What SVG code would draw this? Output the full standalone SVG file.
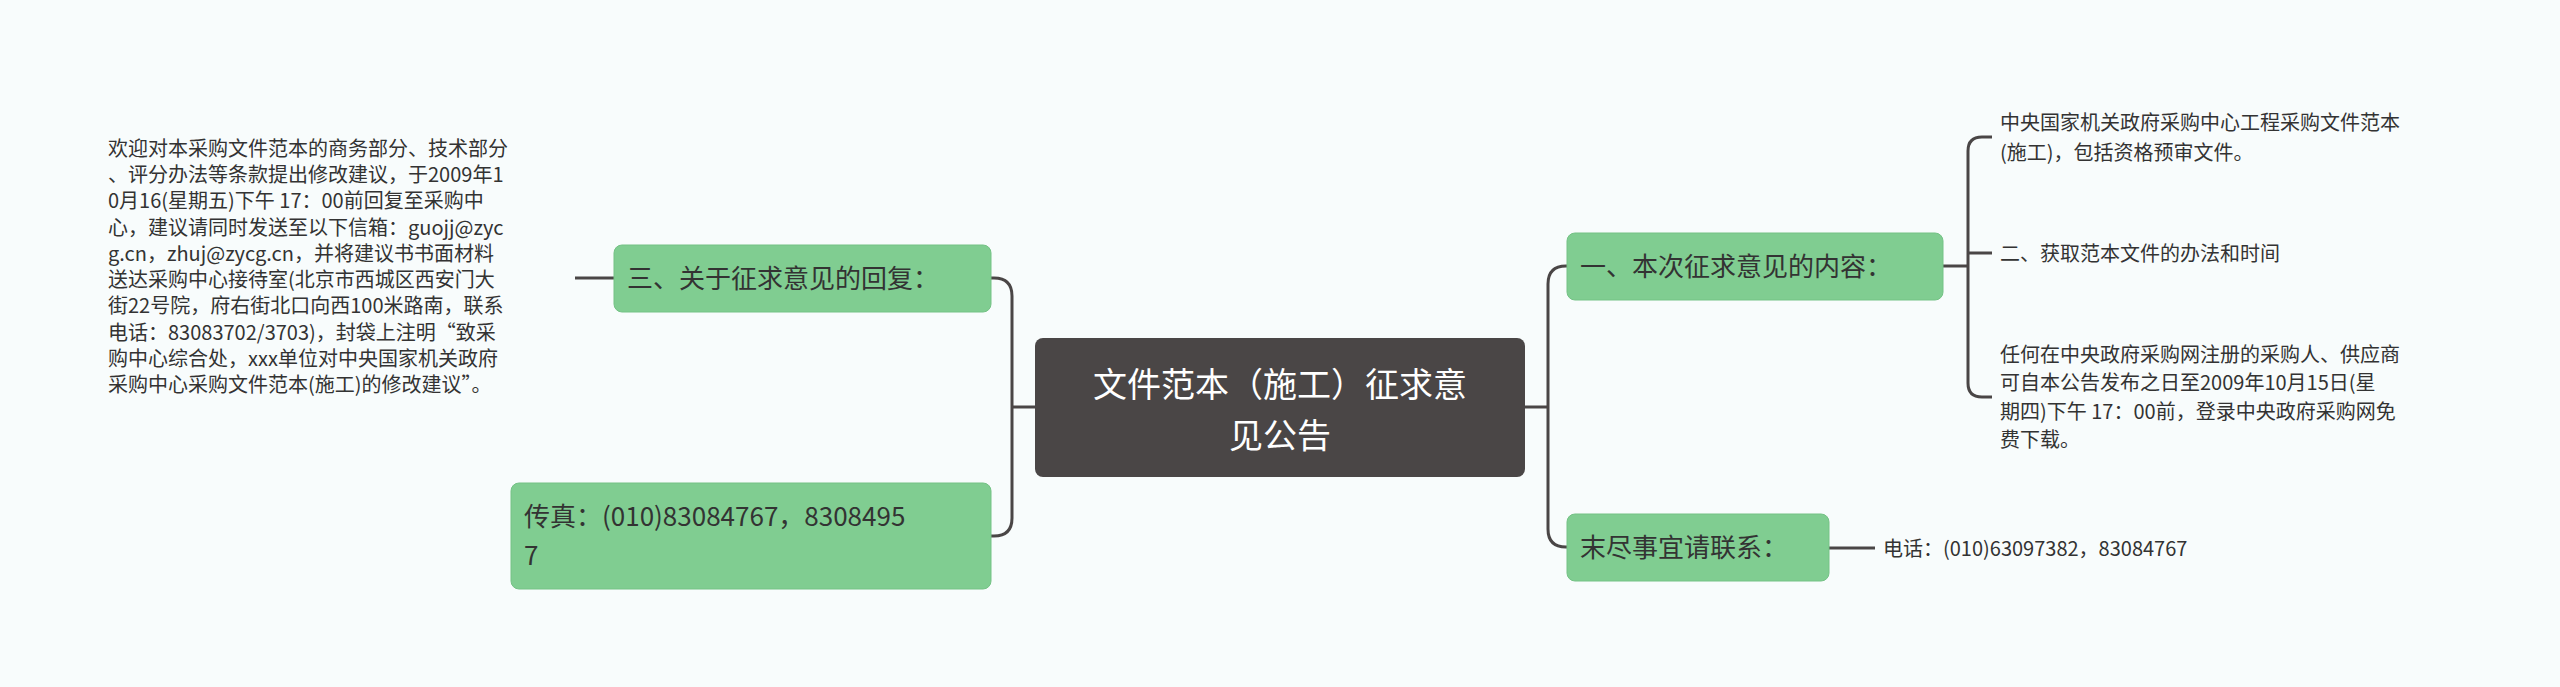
<svg xmlns="http://www.w3.org/2000/svg" width="2560" height="687" viewBox="0 0 2560 687">
<style>
text{font-family:"Noto Sans CJK SC","Noto Sans",sans-serif;fill:#333}
.g{fill:#80cd91;stroke:#74c285;stroke-width:1}
.t{font-size:26px}
.s{font-size:20px}
.c path{fill:none;stroke:#4a4646;stroke-width:3}
</style>
<rect width="2560" height="687" fill="#f8fcfc"/>
<g class="c">
<path d="M1525 407H1548M1548 407V284Q1548 266 1566 266H1567M1548 407V529Q1548 547 1566 547H1567"/>
<path d="M1035 407H1012M1012 407V296Q1012 278 994 278H991M1012 407V518Q1012 536 994 536H991"/>
<path d="M1943 266H1968M1968 266V151Q1968 137 1982 137H1992M1968 266V253Q1968 253 1982 253H1992M1968 266V383Q1968 397 1982 397H1992"/>
<path d="M1829 548H1875"/>
<path d="M614 278H575"/>
</g>
<g id="center"><rect x="1035" y="338" width="490" height="139" rx="8" fill="#4a4646"/>
<text x="1280" y="397" text-anchor="middle" font-size="34" style="fill:#fff">文件范本（施工）征求意</text>
<text x="1280" y="448" text-anchor="middle" font-size="34" style="fill:#fff">见公告</text></g>
<g id="n1"><rect class="g" x="1567" y="233" width="376" height="67" rx="8"/><text class="t" x="1580" y="276">一、本次征求意见的内容：</text></g>
<g id="n2"><rect class="g" x="1567" y="514" width="262" height="67" rx="8"/><text class="t" x="1580" y="557">末尽事宜请联系：</text></g>
<g id="n3"><rect class="g" x="614" y="245" width="377" height="67" rx="8"/><text class="t" x="627" y="288">三、关于征求意见的回复：</text></g>
<g id="n4"><rect class="g" x="511" y="483" width="480" height="106" rx="8"/><text class="t" x="524" y="526">传真：(010)83084767，8308495</text><text class="t" x="524" y="565">7</text></g>
<g id="l1"><text class="s" x="2000" y="130">中央国家机关政府采购中心工程采购文件范本</text><text class="s" x="2000" y="160">(施工)，包括资格预审文件。</text></g>
<g id="l2"><text class="s" x="2000" y="261">二、获取范本文件的办法和时间</text></g>
<g id="l3"><text class="s" x="2000" y="362">任何在中央政府采购网注册的采购人、供应商</text><text class="s" x="2000" y="390">可自本公告发布之日至2009年10月15日(星</text><text class="s" x="2000" y="419">期四)下午 17：00前，登录中央政府采购网免</text><text class="s" x="2000" y="447">费下载。</text></g>
<g id="l4"><text class="s" x="1883" y="556">电话：(010)63097382，83084767</text></g>
<g id="l5" class="s">
<text class="s" x="108" y="156">欢迎对本采购文件范本的商务部分、技术部分</text>
<text class="s" x="108" y="182">、评分办法等条款提出修改建议，于2009年1</text>
<text class="s" x="108" y="208">0月16(星期五)下午 17：00前回复至采购中</text>
<text class="s" x="108" y="235">心，建议请同时发送至以下信箱：guojj@zyc</text>
<text class="s" x="108" y="261">g.cn，zhuj@zycg.cn，并将建议书书面材料</text>
<text class="s" x="108" y="287">送达采购中心接待室(北京市西城区西安门大</text>
<text class="s" x="108" y="313">街22号院，府右街北口向西100米路南，联系</text>
<text class="s" x="108" y="340">电话：83083702/3703)，封袋上注明“致采</text>
<text class="s" x="108" y="366">购中心综合处，xxx单位对中央国家机关政府</text>
<text class="s" x="108" y="392">采购中心采购文件范本(施工)的修改建议”。</text>
</g>
</svg>
